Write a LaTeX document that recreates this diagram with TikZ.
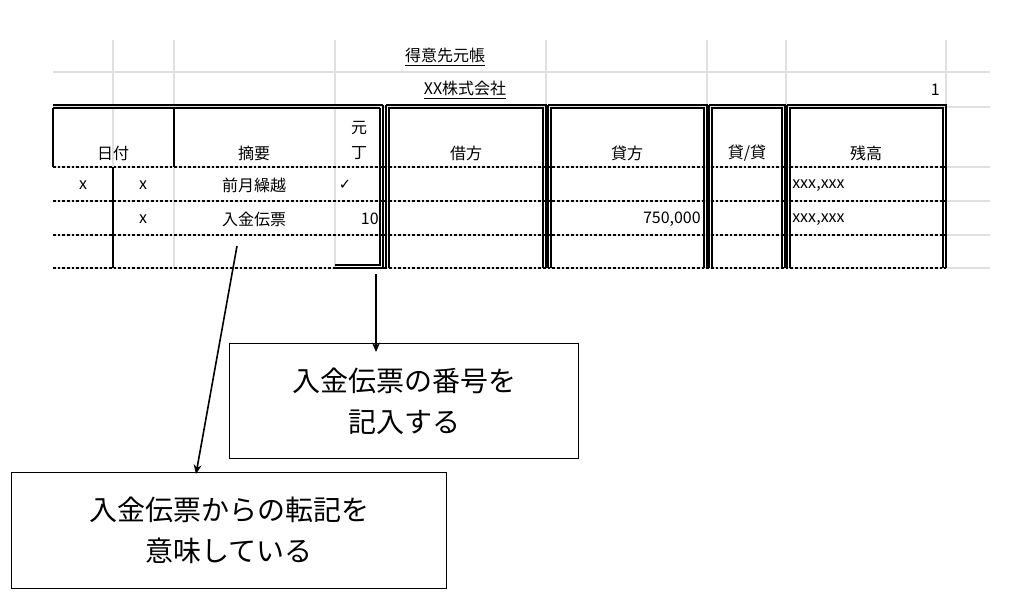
\documentclass[tikz,border=0pt]{standalone}
\usepackage{fontspec}
\usetikzlibrary{arrows.meta}
\setmainfont{Noto Sans CJK JP}
\begin{document}
\begin{tikzpicture}[x=0.75pt,y=-0.75pt,
  grid/.style={draw=black!12,line width=0.8pt},
  blk/.style={draw=black,line width=1pt},
  dotl/.style={draw=black,line width=0.9pt,dash pattern=on 2pt off 1.5pt},
  cell/.style={font=\fontsize{12}{14}\selectfont,inner sep=0pt},
  capbox/.style={draw=black,line width=0.8pt,font=\fontsize{21}{31}\selectfont,align=center,inner sep=0pt},
  arr/.style={draw=black,line width=1.2pt,-{Stealth[length=7pt,width=6pt]}}]
\useasboundingbox (0,0) rectangle (1024,601);
% grid
\foreach \x in {113,174,335,546,707,786,946} \draw[grid] (\x,40) -- (\x,268);
\foreach \y in {72,107,167,201,235,268} \draw[grid] (53,\y) -- (990,\y);
% title texts
\node[cell] (t1) at (445,57) {\underline{得意先元帳}};
\node[cell] (t2) at (465,90) {\underline{XX株式会社}};
\node[cell,anchor=east] (pg) at (940,90) {1};
% left block
\draw[blk] (53,105) -- (383,105);
\draw[blk] (53,108) -- (380,108);
\draw[blk] (53,108) -- (53,167);
\draw[blk] (174,108) -- (174,167);
\draw[blk] (113,167) -- (113,268);
\draw[blk] (383,105) -- (383,268) -- (335,268);
\draw[blk] (380,108) -- (380,265) -- (335,265);
% double boxes
\foreach \a/\b in {386/546,548/707,709/785,787/946}{
  \draw[blk] (\a,105) -- (\b,105) -- (\b,268);
  \draw[blk] (\a,268) -- (\a,105);
  \draw[blk] (\a+3,268) -- (\a+3,108) -- (\b-3,108) -- (\b-3,268);
}
% dotted rows
\foreach \y in {167,201,235,268} \draw[dotl] (53,\y) -- (946,\y);
% headers
\node[cell] (h1) at (113,153) {日付};
\node[cell] (h2) at (254,153) {摘要};
\node[cell] (h3a) at (359,128) {元};
\node[cell] (h3b) at (359,153) {丁};
\node[cell] (h4) at (466,153) {借方};
\node[cell] (h5) at (627,153) {貸方};
\node[cell] (h6) at (747,153) {貸/貸};
\node[cell] (h7) at (866,153) {残高};
% row 1
\node[cell] (r1a) at (83,185) {x};
\node[cell] (r1b) at (143,185) {x};
\node[cell] (r1c) at (254,185) {前月繰越};
\node[cell] (r1d) at (345,185) {\fontspec{DejaVu Sans}\fontsize{11}{13}\selectfont ✓};
\node[cell,anchor=west] (r1e) at (792,186) {xxx,xxx};
% row 2
\node[cell] (r2b) at (143,219) {x};
\node[cell] (r2c) at (254,219) {入金伝票};
\node[cell,anchor=east] (r2d) at (379,219) {10};
\node[cell,anchor=east] (r2e) at (701,219) {750,000};
\node[cell,anchor=west] (r2f) at (792,220) {xxx,xxx};
% captions
\node[capbox,minimum width=262,minimum height=86] (c1) at (404,401) {入金伝票の番号を\\記入する};
\node[capbox,minimum width=326,minimum height=87] (c2) at (229,530.5) {入金伝票からの転記を\\意味している};
\coordinate (s1) at (376,274);
\coordinate (s2) at (237,246);
\coordinate (e1) at (376,352);
\coordinate (e2) at (196,474);
\draw[arr] (s1) -- (e1);
\draw[arr] (s2) -- (e2);
\end{tikzpicture}
\end{document}
